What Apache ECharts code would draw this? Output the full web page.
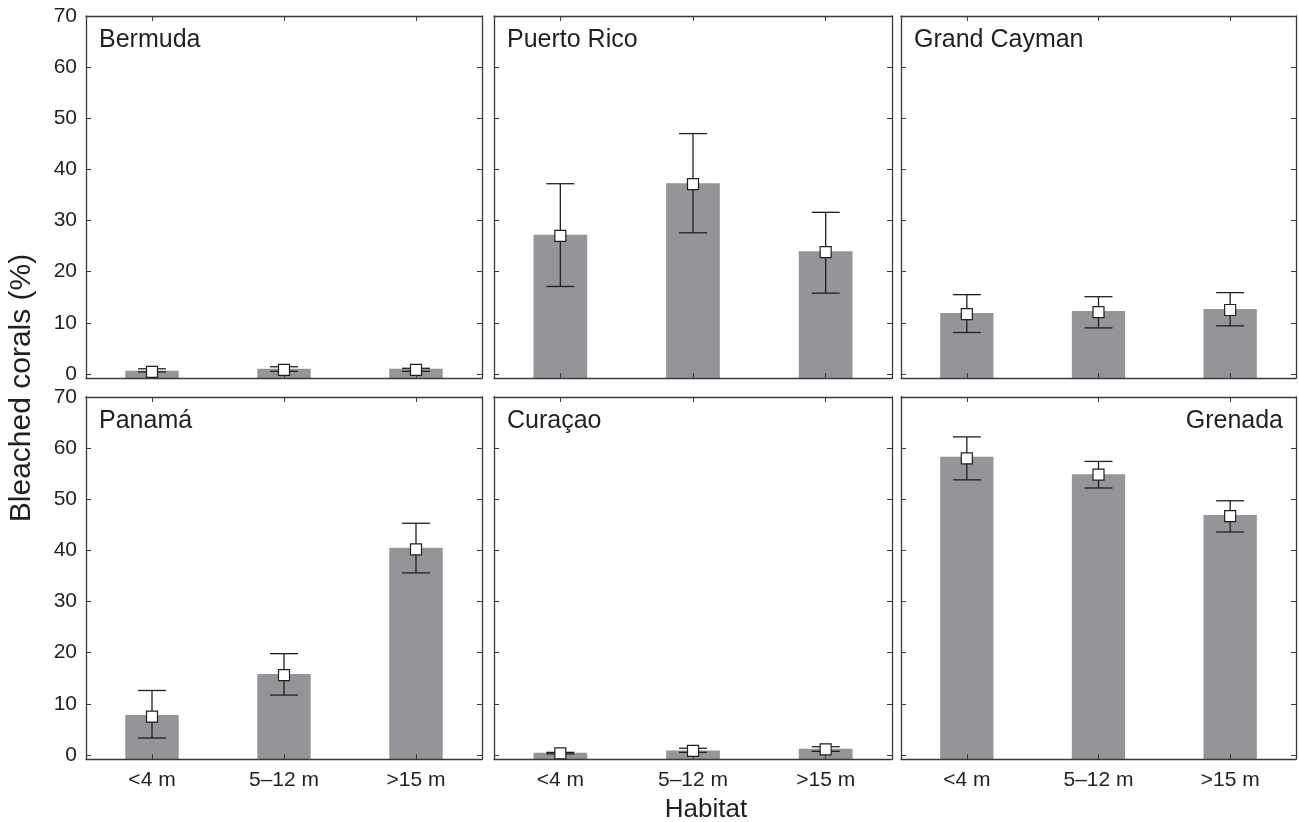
<!DOCTYPE html>
<html>
<head>
<meta charset="utf-8">
<script src="https://cdn.jsdelivr.net/npm/echarts@6/dist/echarts.min.js"></script>
<style>
html,body{margin:0;padding:0;background:#fff;}
#chart{width:1299px;height:822px;}
</style>
</head>
<body>
<div id="chart"></div>
<script>
// ---- data ----
const categories = ['<4 m', '5–12 m', '>15 m'];
const sites = ['Bermuda', 'Puerto Rico', 'Grand Cayman', 'Panamá', 'Curaçao', 'Grenada'];
const yTicks = [0, 10, 20, 30, 40, 50, 60, 70];
const Y_MIN = -0.8, Y_MAX = 70;

const bermudaBar = [0.6, 1.0, 1.0];
const bermudaMean = [0.4, 0.8, 0.8];
const bermudaLow = [0.4, 0.5, 0.5];
const bermudaHigh = [1.0, 1.4, 1.1];

const puertoRicoBar = [27.2, 37.3, 24.0];
const puertoRicoMean = [27.0, 37.1, 23.8];
const puertoRicoLow = [17.1, 27.6, 15.8];
const puertoRicoHigh = [37.2, 47.0, 31.6];

const caymanBar = [11.9, 12.3, 12.7];
const caymanMean = [11.7, 12.1, 12.5];
const caymanLow = [8.1, 9.0, 9.4];
const caymanHigh = [15.5, 15.1, 15.9];

const panamaBar = [7.8, 15.8, 40.5];
const panamaMean = [7.5, 15.6, 40.2];
const panamaLow = [3.3, 11.7, 35.6];
const panamaHigh = [12.6, 19.8, 45.3];

const curacaoBar = [0.4, 0.85, 1.2];
const curacaoMean = [0.3, 0.8, 1.1];
const curacaoLow = [0.2, 0.5, 0.7];
const curacaoHigh = [0.5, 1.3, 1.6];

const grenadaBar = [58.3, 54.9, 46.9];
const grenadaMean = [58.0, 54.8, 46.7];
const grenadaLow = [53.8, 52.2, 43.6];
const grenadaHigh = [62.2, 57.4, 49.7];

const siteBars = [bermudaBar, puertoRicoBar, caymanBar, panamaBar, curacaoBar, grenadaBar];
const siteMeans = [bermudaMean, puertoRicoMean, caymanMean, panamaMean, curacaoMean, grenadaMean];
const siteLows = [bermudaLow, puertoRicoLow, caymanLow, panamaLow, curacaoLow, grenadaLow];
const siteHighs = [bermudaHigh, puertoRicoHigh, caymanHigh, panamaHigh, curacaoHigh, grenadaHigh];

// ---- layout ----
const FONT = "'Liberation Sans', Arial, Helvetica, sans-serif";
const TXT = '#231f20';
const FRAME = '#3a3a3a';
const colLeft = [86, 494, 901];
const colWidth = [396, 398, 395];
const rowTop = [16, 397];
const rowHeight = 362;

const chart = echarts.init(document.getElementById('chart'), null, {renderer: 'canvas'});

const grids = [], xAxes = [], yAxes = [], series = [], graphics = [];

sites.forEach((name, i) => {
  const r = Math.floor(i / 3), c = i % 3;
  grids.push({left: colLeft[c], top: rowTop[r], width: colWidth[c], height: rowHeight, containLabel: false, show: false});
  const tickStyle = {show: true, inside: true, length: 5, lineStyle: {color: FRAME, width: 1}};
  const lineStyle = {show: true, onZero: false, lineStyle: {color: FRAME, width: 1.3}};
  xAxes.push({
    type: 'category', gridIndex: i, data: categories, position: 'bottom', z: 5,
    axisLine: lineStyle,
    axisTick: Object.assign({alignWithLabel: true}, tickStyle),
    axisLabel: {show: r === 1, color: TXT, fontSize: 21, fontFamily: FONT, margin: 11},
    splitLine: {show: false}
  });
  xAxes.push({
    type: 'category', gridIndex: i, data: categories, position: 'top', z: 5,
    axisLine: lineStyle,
    axisTick: Object.assign({alignWithLabel: true}, tickStyle),
    axisLabel: {show: false},
    splitLine: {show: false}
  });
  yAxes.push({
    type: 'value', gridIndex: i, min: Y_MIN, max: Y_MAX, position: 'left', z: 5,
    axisLine: lineStyle,
    axisTick: Object.assign({customValues: yTicks}, tickStyle),
    axisLabel: {show: c === 0, customValues: yTicks, color: TXT, fontSize: 21, fontFamily: FONT, margin: 9},
    splitLine: {show: false}
  });
  yAxes.push({
    type: 'value', gridIndex: i, min: Y_MIN, max: Y_MAX, position: 'right', z: 5,
    axisLine: lineStyle,
    axisTick: Object.assign({customValues: yTicks}, tickStyle),
    axisLabel: {show: false},
    splitLine: {show: false}
  });

  const xi = i * 2, yi = i * 2;
  series.push({
    type: 'custom', xAxisIndex: xi, yAxisIndex: yi, z: 2,
    data: siteBars[i].map((v, k) => [k, v]),
    encode: {x: 0, y: 1},
    renderItem: function (params, api) {
      const x = api.value(0), v = api.value(1);
      const pTop = api.coord([x, v]);
      const pBase = api.coord([x, Y_MIN]);
      const w = api.size([1, 0])[0] * 0.405;
      return {type: 'rect', shape: {x: pTop[0] - w / 2, y: pTop[1], width: w, height: pBase[1] - pTop[1]}, style: {fill: '#939598'}};
    }
  });
  series.push({
    type: 'custom', xAxisIndex: xi, yAxisIndex: yi, z: 6,
    data: siteLows[i].map((v, k) => [k, v, siteHighs[i][k]]),
    encode: {x: 0, y: [1, 2]},
    renderItem: function (params, api) {
      const x = api.value(0);
      const lo = api.coord([x, api.value(1)]);
      const hi = api.coord([x, api.value(2)]);
      const hw = 14;
      const st = {stroke: TXT, lineWidth: 1.3, fill: null};
      return {type: 'group', children: [
        {type: 'line', shape: {x1: lo[0], y1: lo[1], x2: hi[0], y2: hi[1]}, style: st},
        {type: 'line', shape: {x1: lo[0] - hw, y1: lo[1], x2: lo[0] + hw, y2: lo[1]}, style: st},
        {type: 'line', shape: {x1: hi[0] - hw, y1: hi[1], x2: hi[0] + hw, y2: hi[1]}, style: st}
      ]};
    }
  });
  series.push({
    type: 'scatter', xAxisIndex: xi, yAxisIndex: yi, z: 7,
    symbol: 'rect', symbolSize: 11,
    itemStyle: {color: '#ffffff', borderColor: TXT, borderWidth: 1.2, opacity: 1},
    data: siteMeans[i].map((v, k) => [k, v])
  });

  const isRight = name === 'Grenada';
  graphics.push({
    type: 'text', z: 10,
    x: isRight ? colLeft[c] + colWidth[c] - 13 : colLeft[c] + 13,
    y: rowTop[r] + 24,
    style: {text: name, fill: TXT, fontSize: 25, fontFamily: FONT, align: isRight ? 'right' : 'left', verticalAlign: 'middle'}
  });
});

graphics.push({
  type: 'text', z: 10, x: 22, y: 388, rotation: Math.PI / 2,
  style: {text: 'Bleached corals (%)', fill: TXT, fontSize: 30, fontFamily: FONT, align: 'center', verticalAlign: 'middle'}
});
graphics.push({
  type: 'text', z: 10, x: 706, y: 810,
  style: {text: 'Habitat', fill: TXT, fontSize: 26, fontFamily: FONT, align: 'center', verticalAlign: 'middle'}
});

chart.setOption({
  animation: false,
  backgroundColor: '#ffffff',
  grid: grids,
  xAxis: xAxes,
  yAxis: yAxes,
  series: series,
  graphic: graphics
});
</script>
</body>
</html>
